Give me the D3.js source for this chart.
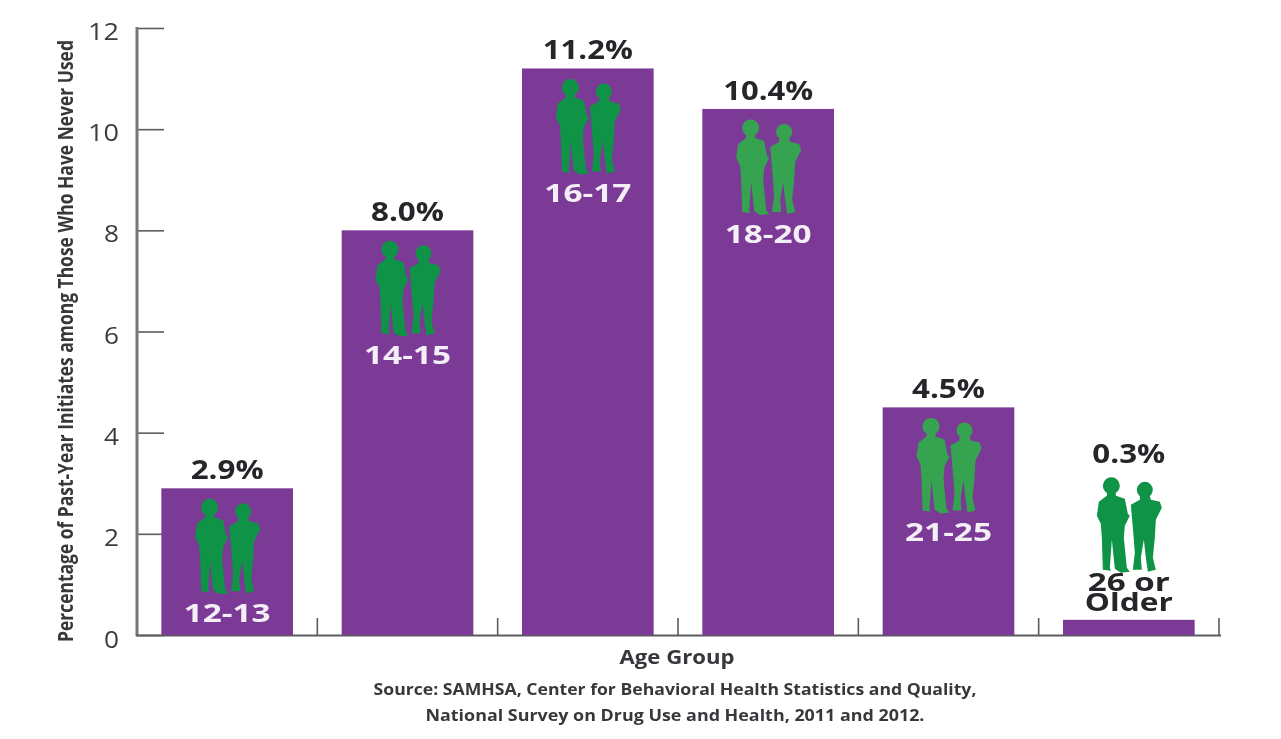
<!DOCTYPE html>
<html><head><meta charset="utf-8">
<script src="https://cdn.jsdelivr.net/npm/d3@7/dist/d3.min.js"></script>
<style>
html,body{margin:0;padding:0;background:#fff;overflow:hidden}
svg{display:block;filter:blur(0.7px)}
text{font-family:"Open Sans","Noto Sans",sans-serif}
</style></head><body>
<svg id="c" width="1281" height="739"></svg>
<script>
const ageGroups = ["12-13","14-15","16-17","18-20","21-25","26 or Older"];
const percentages = [2.9,8.0,11.2,10.4,4.5,0.3];
const valueLabels = ["2.9%","8.0%","11.2%","10.4%","4.5%","0.3%"];
const figureColors = ["#0f9447","#0f9447","#0f9447","#35a350","#35a350","#0f9447"];
const yTicks = [0,2,4,6,8,10,12];
const yTitle = "Percentage of Past-Year Initiates among Those Who Have Never Used";
const xTitle = "Age Group";
const sourceLines = ["Source: SAMHSA, Center for Behavioral Health Statistics and Quality,","National Survey on Drug Use and Health, 2011 and 2012."];

const svg = d3.select("#c");
const y = d3.scaleLinear().domain([0,12]).range([635,28]);
const x = d3.scaleBand().domain(ageGroups).range([137,1219]).paddingInner(0.27).paddingOuter(0.135);

// squeeze a text horizontally to a measured width, keeping its height
function fitWidth(sel, w, base){
  sel.each(function(){
    const n = this.getComputedTextLength();
    d3.select(this).attr("transform", `${base||""} scale(${w/n},1)`);
  });
}

// axis
const axisColor = "#5c5c60";
const yAxis = svg.append("g").attr("transform","translate(137,0)")
  .call(d3.axisRight(y).tickValues(yTicks).tickSize(27).tickFormat(""));
yAxis.selectAll("path").remove();
yAxis.selectAll("line").attr("stroke",axisColor).attr("stroke-width",1.6);
svg.append("line").attr("x1",137).attr("x2",137).attr("y1",27).attr("y2",636).attr("stroke","#77777b").attr("stroke-width",3);
svg.append("line").attr("x1",136).attr("x2",1221).attr("y1",635.5).attr("y2",635.5).attr("stroke",axisColor).attr("stroke-width",2);

svg.append("g").selectAll("text").data(yTicks).join("text")
  .attr("y",0).attr("text-anchor","end")
  .attr("font-size",23).attr("fill","#3c3c40")
  .text(d=>d)
  .each(function(d){
    fitWidth(d3.select(this), d>=10?31:15, `translate(119,${y(d)+(d===0?13:12)})`);
  });

// separators between groups
const step = x.step();
svg.append("g").selectAll("line").data(ageGroups).join("line")
  .attr("x1",d=>x(d)+x.bandwidth()/2+step/2).attr("x2",d=>x(d)+x.bandwidth()/2+step/2)
  .attr("y1",618).attr("y2",635).attr("stroke",axisColor).attr("stroke-width",1.6);

// bars
svg.append("g").selectAll("rect").data(percentages).join("rect")
  .attr("x",(d,i)=>x(ageGroups[i])).attr("width",x.bandwidth())
  .attr("y",d=>y(d)).attr("height",d=>y(0)-y(d)).attr("fill","#7b3a96");

// value labels
const labelBase = (d,i)=> i===5 ? 463 : y(d)-9;
svg.append("g").selectAll("text").data(percentages).join("text")
  .attr("text-anchor","middle")
  .attr("font-size",27).attr("font-weight",700).attr("fill","#26262a").text((d,i)=>valueLabels[i])
  .each(function(d,i){
    fitWidth(d3.select(this), valueLabels[i].length>4?90:73,
      `translate(${x(ageGroups[i])+x.bandwidth()/2},${labelBase(d,i)})`);
  });

// silhouettes
const bigHead = "M23,8a8.5,8.5 0 1,1 -17,0a8.5,8.5 0 1,1 17,0Z";
const bigBody = "M10,14L19,14L19,18L28,21L31,36L33,38L28,48L27,60L30,90L33,94L24,95L18,91L15,62L13,90L14,93L6,92L5,60L4,46L0,38L2,24L10,18Z";
const smallHead = "M56,12a8,8 0 1,1 -16,0a8,8 0 1,1 16,0Z";
const smallBody = "M43,18L53,18L54,22L63,24L65,30L59,42L58,60L56,80L59,92L51,94L49,80L47,62L44,80L45,92L36,92L38,75L36,50L34,27L43,22Z";
const figTop = (d,i)=> i===5 ? y(d)-142 : y(d)+11;
svg.append("g").selectAll("path").data(percentages).join("path")
  .attr("d",bigHead+bigBody+smallHead+smallBody)
  .attr("fill",(d,i)=>figureColors[i])
  .attr("transform",(d,i)=>`translate(${x(ageGroups[i])+x.bandwidth()/2-32},${figTop(d,i)})`);

// age labels inside bars
const ageG = svg.append("g");
ageGroups.forEach((g,i)=>{
  const cx = x(g)+x.bandwidth()/2;
  if(i<5){
    ageG.append("text").attr("text-anchor","middle")
      .attr("font-size",25).attr("font-weight",700).attr("fill","#f4eef6").text(g)
      .call(fitWidth,87,`translate(${cx},${y(percentages[i])+134})`);
  } else {
    ageG.append("text").attr("text-anchor","middle")
      .attr("font-size",25).attr("font-weight",700).attr("fill","#26262a").text("26 or")
      .call(fitWidth,82,`translate(${cx},591)`);
    ageG.append("text").attr("text-anchor","middle")
      .attr("font-size",25).attr("font-weight",700).attr("fill","#26262a").text("Older")
      .call(fitWidth,88,`translate(${cx},611)`);
  }
});

// titles
svg.append("text").attr("text-anchor","middle")
  .attr("font-size",21).attr("font-weight",700).attr("fill","#38383c").text(yTitle)
  .call(fitWidth,602,"translate(73,341) rotate(-90)");
svg.append("text").attr("text-anchor","middle")
  .attr("font-size",20).attr("font-weight",700).attr("fill","#38383c").text(xTitle)
  .call(fitWidth,115,"translate(677,664)");
svg.append("g").selectAll("text").data(sourceLines).join("text")
  .attr("text-anchor","middle")
  .attr("font-size",16).attr("font-weight",700).attr("fill","#38383c").text(d=>d)
  .each(function(d,i){
    fitWidth(d3.select(this), i?499:603, `translate(675,${695+i*26})`);
  });
</script>
</body></html>
